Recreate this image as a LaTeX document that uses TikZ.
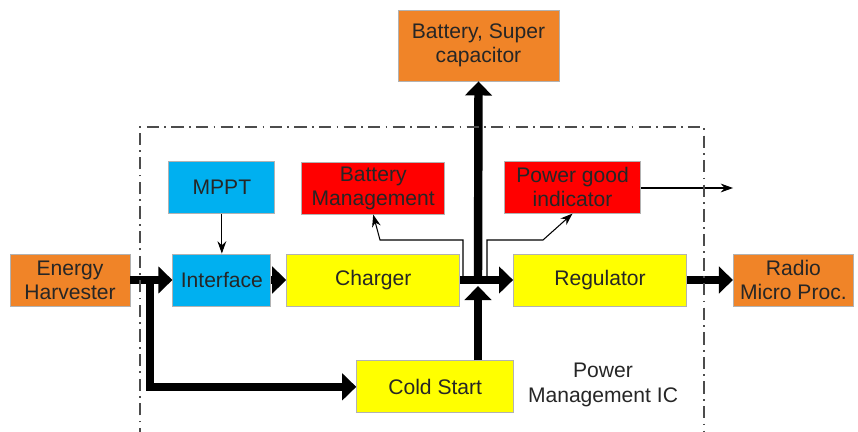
\documentclass[tikz,border=0pt]{standalone}
\usepackage{fontspec}
\setmainfont{Liberation Sans}
\usetikzlibrary{positioning,arrows.meta,calc}

\definecolor{harvorange}{RGB}{240,132,40}
\definecolor{mpptblue}{RGB}{0,176,240}
\definecolor{alertred}{RGB}{255,0,0}
\definecolor{coreyellow}{RGB}{255,255,0}

\begin{document}
\begin{tikzpicture}[
    x=0.02cm, y=-0.02cm,
    font=\fontsize{12}{13.8}\selectfont,
    box/.style={draw=gray!60, line width=0.5pt, align=center, inner sep=2pt,
                minimum height=10.4mm, text=black!85},
    ext/.style={box, fill=harvorange, minimum width=24mm},
    ctl/.style={box, fill=mpptblue},
    warn/.style={box, fill=alertred},
    core/.style={box, fill=coreyellow, minimum width=34.6mm},
    thk/.style={-{Triangle[length=8pt,width=15pt]}, line width=4.8pt},
    thn/.style={-{Stealth[length=7pt,width=5pt]}, line width=0.6pt},
    frame/.style={draw=black!70, line width=0.9pt,
                  dash pattern=on 7pt off 3pt on 1pt off 3pt}
  ]
  \useasboundingbox (0,0) rectangle (858,432);

  % ---- main power path ----
  \node[ext] (eh) at (70,280) {Energy\\Harvester};
  \node[ctl, minimum width=19.6mm, right=8.4mm of eh] (iface) {Interface};
  \node[core, right=3mm of iface] (charger) {Charger};
  \node[core, right=10.6mm of charger] (reg) {Regulator};
  \node[ext, right=9.2mm of reg] (radio) {Radio\\Micro Proc.};

  % ---- control blocks ----
  \node[ctl, minimum width=21.2mm, above=8mm of iface] (mppt) {MPPT};
  \node[warn, minimum width=28.6mm, above=7.8mm of charger] (batman)
    {Battery\\Management};
  \node[warn, minimum width=27.2mm, above=8mm of reg, xshift=-5.5mm] (pgood)
    {Power good\\indicator};
  \node[core, minimum width=31.4mm, below=10.8mm of charger, xshift=12.4mm]
    (cold) {Cold Start};

  % ---- storage ----
  \node[ext, minimum width=32.2mm, minimum height=14.2mm] (batt) at (478.5,45.5)
    {Battery, Super\\capacitor};

  % ---- junction points ----
  \coordinate (br) at (150,280);
  \coordinate (jn) at (478,280);
  \coordinate (jb) at (478,286);
  \coordinate (tapl) at (463,280);
  \coordinate (bml) at (380,240);
  \coordinate (tapr) at (487,280);
  \coordinate (pgr) at (543,240);
  \coordinate (pgout) at (733,188);

  % ---- thick connectors ----
  \draw[thk] (eh) -- (iface);
  \draw[thk] (iface) -- (charger);
  \draw[thk] (charger) -- (reg);
  \draw[thk] (reg) -- (radio);
  \draw[thk] (jn) -- (batt.south);
  \draw[thk] (cold.north -| jn) -- (jb);
  \draw[thk] (br) |- (cold.west);

  % ---- thin connectors ----
  \draw[thn] (mppt) -- (iface);
  \draw[thn] (tapl) |- (bml) -- (batman.south);
  \draw[thn] (tapr) |- (pgr) -- (pgood.south);
  \draw[thn] (pgood.east |- pgout) -- (pgout);

  % ---- chip boundary ----
  \draw[frame] (140,440) -- (140,127) -- (704,127) -- (704,440);
  \node[align=center, text=black!85] (pmic) at (603,385)
    {Power\\Management IC};

\end{tikzpicture}
\end{document}
